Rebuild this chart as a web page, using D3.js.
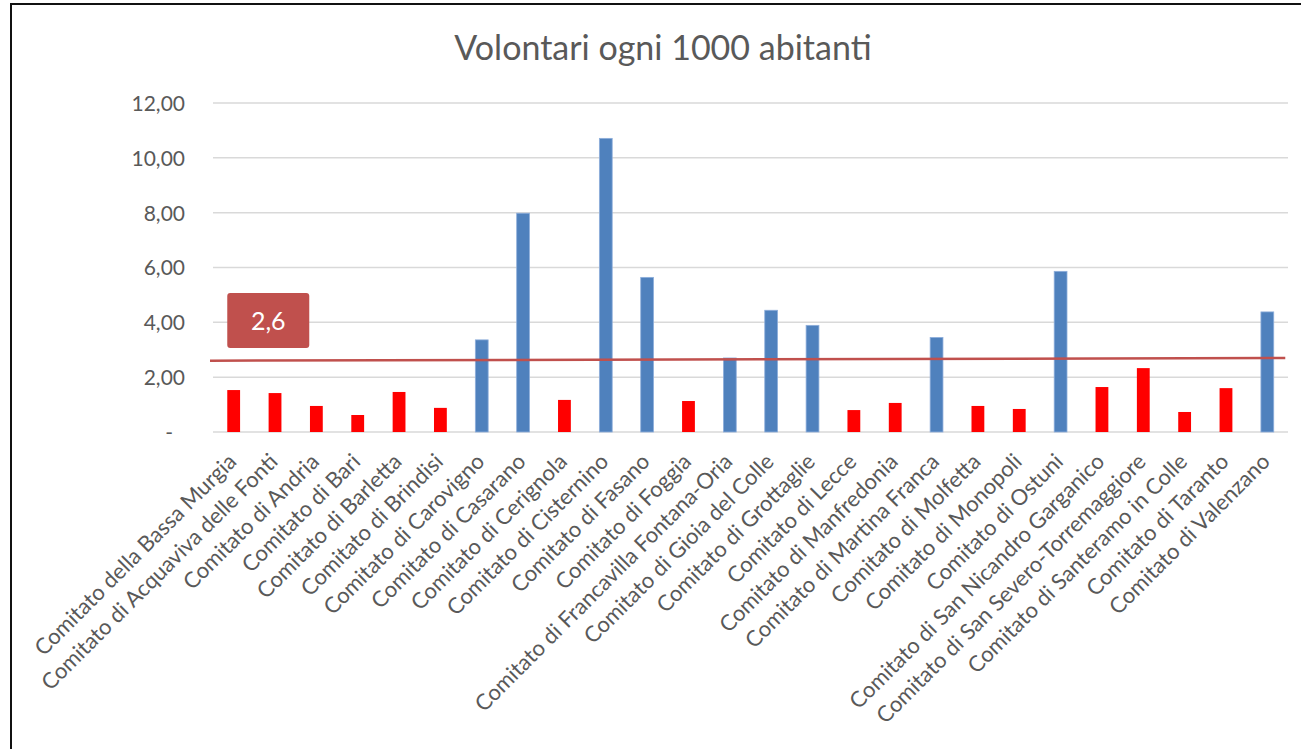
<!DOCTYPE html>
<html>
<head>
<meta charset="utf-8">
<script src="https://cdn.jsdelivr.net/npm/d3@7"></script>
<style>
  html, body { margin: 0; padding: 0; background: #fff; }
  svg { display: block; }
  text { font-family: Lato, "Open Sans", sans-serif; }
</style>
</head>
<body>
<svg id="chart" width="1301" height="749"></svg>
<script>
// Volunteers per 1000 inhabitants, by committee
const categories = [
  "Comitato della Bassa Murgia",
  "Comitato di Acquaviva delle Fonti",
  "Comitato di Andria",
  "Comitato di Bari",
  "Comitato di Barletta",
  "Comitato di Brindisi",
  "Comitato di Carovigno",
  "Comitato di Casarano",
  "Comitato di Cerignola",
  "Comitato di Cisternino",
  "Comitato di Fasano",
  "Comitato di Foggia",
  "Comitato di Francavilla Fontana-Oria",
  "Comitato di Gioia del Colle",
  "Comitato di Grottaglie",
  "Comitato di Lecce",
  "Comitato di Manfredonia",
  "Comitato di Martina Franca",
  "Comitato di Molfetta",
  "Comitato di Monopoli",
  "Comitato di Ostuni",
  "Comitato di San Nicandro Garganico",
  "Comitato di San Severo-Torremaggiore",
  "Comitato di Santeramo in Colle",
  "Comitato di Taranto",
  "Comitato di Valenzano"
];
const values = [
  1.53, 1.42, 0.95, 0.62, 1.46, 0.88, 3.36, 7.98, 1.17, 10.71,
  5.64, 1.13, 2.70, 4.44, 3.89, 0.80, 1.06, 3.45, 0.95, 0.84,
  5.86, 1.64, 2.33, 0.73, 1.60, 4.38
];
// reference line: start and end level
const avgLine = [2.6, 2.7];
const yTicks = [0, 2, 4, 6, 8, 10, 12];
const title = "Volontari ogni 1000 abitanti";

const colAbove = "#4F81BD";
const colBelow = "#FF0000";
const colLine = "#C0504D";
const textCol = "#595959";
const gridCol = "#D9D9D9";
const fontStack = "Lato, 'Open Sans', sans-serif";

const svg = d3.select("#chart");

// outer frame
svg.append("rect")
  .attr("x", 11).attr("y", 4)
  .attr("width", 1400).attr("height", 900)
  .attr("fill", "none").attr("stroke", "#111").attr("stroke-width", 2);

const plot = { left: 213, right: 1288, top: 103, bottom: 432 };

const x = d3.scaleBand()
  .domain(categories)
  .range([plot.left, plot.right])
  .paddingInner(0.69)
  .paddingOuter(0.345);

const y = d3.scaleLinear()
  .domain([0, 12])
  .range([plot.bottom, plot.top]);

const fmt = v => v === 0 ? "-" : d3.format(".2f")(v).replace(".", ",");

// title
svg.append("text")
  .attr("x", 663).attr("y", 60)
  .attr("text-anchor", "middle")
  .attr("font-size", 34)
  .attr("fill", textCol)
  .text(title);

// gridlines
svg.append("g")
  .selectAll("line")
  .data(yTicks)
  .join("line")
  .attr("x1", plot.left).attr("x2", plot.right)
  .attr("y1", d => y(d)).attr("y2", d => y(d))
  .attr("stroke", gridCol).attr("stroke-width", 1.5);

// y axis labels
const yAxis = d3.axisLeft(y).tickValues(yTicks).tickFormat(fmt).tickSize(0).tickPadding(28);
const gy = svg.append("g").attr("transform", `translate(${plot.left},0)`).call(yAxis);
gy.select(".domain").remove();
gy.selectAll("text")
  .attr("font-size", 21)
  .attr("fill", textCol)
  .attr("font-family", fontStack)
  .attr("dy", "0.35em");
gy.selectAll(".tick").filter(d => d === 0).select("text").attr("dx", -12);

// bars
svg.append("g")
  .selectAll("rect")
  .data(categories)
  .join("rect")
  .attr("x", d => x(d))
  .attr("width", x.bandwidth())
  .attr("y", (d, i) => y(values[i]))
  .attr("height", (d, i) => y(0) - y(values[i]))
  .attr("fill", (d, i) => values[i] >= avgLine[0] ? colAbove : colBelow)
  .attr("stroke", (d, i) => values[i] >= avgLine[0] ? "#8EAEDB" : "none")
  .attr("stroke-width", 0.8);

// x axis labels, rotated 45 degrees and ending under each bar
const xAxis = d3.axisBottom(x).tickSize(0).tickPadding(0);
const gx = svg.append("g").attr("transform", `translate(0,${plot.bottom})`).call(xAxis);
gx.select(".domain").remove();
gx.selectAll("text")
  .attr("font-size", 22)
  .attr("fill", textCol)
  .attr("font-family", fontStack)
  .attr("text-anchor", "end")
  .attr("x", 0).attr("y", 0).attr("dy", 0)
  .attr("transform", "translate(4,31) rotate(-45)");

// reference line
const lineStart = plot.left - 3;
const lineEnd = x(categories[categories.length - 1]) + x.bandwidth() * 1.9;
svg.append("line")
  .attr("x1", lineStart).attr("x2", lineEnd)
  .attr("y1", y(avgLine[0])).attr("y2", y(avgLine[1]))
  .attr("stroke", colLine).attr("stroke-width", 2.5);

// value callout
const bx = x(categories[0]);
const boxTop = y(5.07), boxBottom = y(3.06);
const bw = 82;
svg.append("rect")
  .attr("x", bx).attr("y", boxTop)
  .attr("width", bw).attr("height", boxBottom - boxTop)
  .attr("rx", 3)
  .attr("fill", colLine);
svg.append("text")
  .attr("x", bx + bw / 2).attr("y", (boxTop + boxBottom) / 2)
  .attr("dy", "0.36em")
  .attr("text-anchor", "middle")
  .attr("font-size", 25)
  .attr("fill", "#fff")
  .text(d3.format(".1f")(avgLine[0]).replace(".", ","));
</script>
</body>
</html>
